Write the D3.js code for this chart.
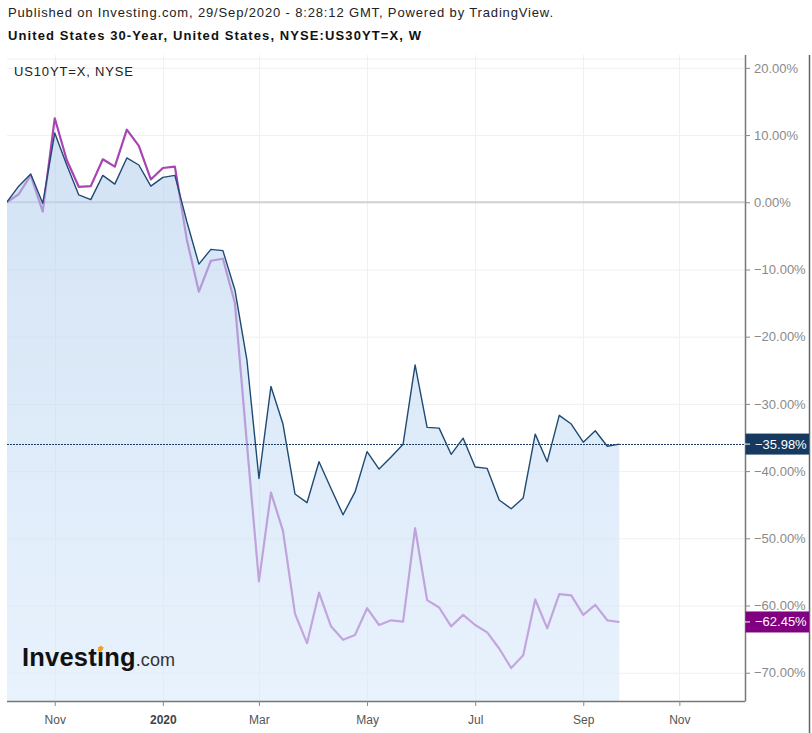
<!DOCTYPE html>
<html>
<head>
<meta charset="utf-8">
<script src="https://cdn.jsdelivr.net/npm/d3@7"></script>
<style>
  html, body { margin: 0; padding: 0; background: #fff; }
  svg { display: block; font-family: Arial, "Liberation Sans", sans-serif; }
</style>
</head>
<body>
<svg id="chart" width="812" height="733"></svg>
<script>
// ---- data ----
const startWeek = new Date(2019, 9, 7);   // first weekly bar (Mon 7 Oct 2019)
const lastWeek = new Date(2020, 8, 28);   // last weekly bar (Mon 28 Sep 2020)
const weeks = d3.timeMonday.range(startWeek, d3.timeDay.offset(lastWeek, 1));

// US30YT=X (main series), % change
const us30 = [0, 2.4, 4.2, -0.15, 10.3, 5.55, 1.1, 0.4, 4.0, 2.7,
  6.6, 5.55, 2.4, 3.7, 4.0, -2.9, -9.2, -7.0, -7.2, -13.05,
  -23.5, -41.1, -27.4, -33.0, -43.4, -44.7, -38.6, -42.6, -46.5, -43.1,
  -37.1, -39.7, -37.9, -36.0, -24.2, -33.5, -33.6, -37.5, -35.1, -39.4,
  -39.6, -44.3, -45.6, -44.0, -34.5, -38.6, -31.7, -33.0, -35.7, -34.0,
  -36.3, -35.98];
// US10YT=X (comparison series), % change
const us10 = [0, 1.2, 4.0, -1.4, 12.5, 6.3, 2.3, 2.4, 6.4, 5.3,
  10.8, 8.4, 3.4, 5.1, 5.3, -5.6, -13.3, -8.7, -8.4, -15.0,
  -36.0, -56.4, -43.2, -48.9, -61.2, -65.6, -58.1, -63.1, -65.1, -64.4,
  -60.4, -62.9, -62.2, -62.4, -48.5, -59.2, -60.3, -63.1, -61.4, -62.9,
  -64.0, -66.4, -69.3, -67.4, -59.1, -63.4, -58.3, -58.5, -61.4, -59.9,
  -62.2, -62.45];

const xTickDates = [new Date(2019, 10, 4), new Date(2020, 0, 6), new Date(2020, 2, 2),
  new Date(2020, 4, 4), new Date(2020, 6, 6), new Date(2020, 8, 7), new Date(2020, 10, 2)];
const xTickLabels = ["Nov", "2020", "Mar", "May", "Jul", "Sep", "Nov"];
const yTicks = [20, 10, 0, -10, -20, -30, -40, -50, -60, -70];

const headerLine1 = "Published on Investing.com, 29/Sep/2020 - 8:28:12 GMT, Powered by TradingView.";
const headerLine2 = "United States 30-Year, United States, NYSE:US30YT=X, W";
const compareLabel = "US10YT=X, NYSE";

// ---- layout ----
const plotL = 7, plotR = 745, plotT = 59, plotB = 701;
const svg = d3.select("#chart");

const x = d3.scaleTime().domain([startWeek, lastWeek]).range([6.7, 619.3]);
const y = d3.scaleLinear().domain([-74.21, 21.32]).range([plotB, plotT]);

const s30 = weeks.map((d, i) => ({ d, v: us30[i] }));
const s10 = weeks.map((d, i) => ({ d, v: us10[i] }));

// defs
const defs = svg.append("defs");
const grad = defs.append("linearGradient").attr("id", "areaGrad")
  .attr("x1", 0).attr("x2", 0)
  .attr("gradientUnits", "userSpaceOnUse")
  .attr("y1", y(12)).attr("y2", plotB);
grad.append("stop").attr("offset", "0%").attr("stop-color", "rgb(178,206,236)").attr("stop-opacity", 0.58);
grad.append("stop").attr("offset", "100%").attr("stop-color", "rgb(218,234,252)").attr("stop-opacity", 0.6);
defs.append("clipPath").attr("id", "plotClip").append("rect")
  .attr("x", plotL).attr("y", plotT).attr("width", plotR - plotL).attr("height", plotB - plotT);

// header
svg.append("text").attr("x", 8).attr("y", 17).attr("font-size", 13).attr("fill", "#222")
  .attr("textLength", 545).attr("lengthAdjust", "spacing").text(headerLine1);
svg.append("text").attr("x", 8).attr("y", 40).attr("font-size", 13).attr("font-weight", "bold").attr("fill", "#111")
  .attr("textLength", 413).attr("lengthAdjust", "spacing").text(headerLine2);

// grid
const grid = svg.append("g");
grid.append("line").attr("x1", plotL).attr("x2", plotR).attr("y1", plotT).attr("y2", plotT)
  .attr("stroke", "#eeeeee").attr("stroke-width", 1);
grid.selectAll("line.h").data(yTicks.filter(v => v !== 0)).join("line")
  .attr("x1", plotL).attr("x2", plotR)
  .attr("y1", d => y(d) + 0.5).attr("y2", d => y(d) + 0.5)
  .attr("stroke", "#f0f0f0").attr("stroke-width", 1);
grid.selectAll("line.v").data(xTickDates).join("line")
  .attr("x1", d => Math.round(x(d)) + 0.5).attr("x2", d => Math.round(x(d)) + 0.5)
  .attr("y1", plotT - 4).attr("y2", plotB)
  .attr("stroke", "#f0f0f0").attr("stroke-width", 1);

// compare label
svg.append("text").attr("x", 14).attr("y", 76).attr("font-size", 13).attr("fill", "#222")
  .attr("textLength", 119).attr("lengthAdjust", "spacing").text(compareLabel);

const plot = svg.append("g").attr("clip-path", "url(#plotClip)");

// zero line
plot.append("line").attr("x1", plotL).attr("x2", plotR).attr("y1", y(0)).attr("y2", y(0))
  .attr("stroke", "#cfcfd6").attr("stroke-width", 2);

// comparison line (drawn under the area)
const line = d3.line().x(p => x(p.d)).y(p => y(p.v));
plot.append("path").datum(s10).attr("d", line)
  .attr("fill", "none").attr("stroke", "#a845b2").attr("stroke-width", 2.2)
  .attr("stroke-linejoin", "round");

// area
const area = d3.area().x(p => x(p.d)).y0(plotB).y1(p => y(p.v));
plot.append("path").datum(s30).attr("d", area).attr("fill", "url(#areaGrad)");

// main line
plot.append("path").datum(s30).attr("d", line)
  .attr("fill", "none").attr("stroke", "#1f4a73").attr("stroke-width", 1.4)
  .attr("stroke-linejoin", "round");

// current value dotted line
const lastV = us30[us30.length - 1];
plot.append("line").attr("x1", plotL).attr("x2", plotR)
  .attr("y1", Math.round(y(lastV)) + 0.5).attr("y2", Math.round(y(lastV)) + 0.5)
  .attr("stroke", "#1b3d66").attr("stroke-width", 1).attr("stroke-dasharray", "2,1");

// logo
const logo = svg.append("text").attr("x", 22).attr("y", 666)
  .attr("font-size", 25.5).attr("font-weight", "bold").attr("fill", "#111").attr("letter-spacing", 0.2);
logo.append("tspan").text("Investing");
logo.append("tspan").attr("font-size", 18).attr("font-weight", "normal").attr("fill", "#333").attr("letter-spacing", 0.1).text(".com");
try {
  const ext = logo.node().getExtentOfChar(6);
  svg.append("rect").attr("x", ext.x + ext.width / 2 - 2).attr("y", ext.y + 3)
    .attr("width", 4).attr("height", 6).attr("fill", "#f7a21b")
    .attr("transform", `rotate(30, ${ext.x + ext.width / 2}, ${ext.y + 6})`);
} catch (e) {}

// x axis
const xAxis = d3.axisBottom(x).tickValues(xTickDates).tickSize(5).tickFormat((d, i) => xTickLabels[i]);
const gx = svg.append("g").attr("transform", `translate(0,${plotB})`).call(xAxis);
gx.select(".domain").attr("d", `M${plotL},0.5H${plotR}`).attr("stroke", "#777").attr("stroke-width", 1.5);
gx.selectAll(".tick line").attr("stroke", "#888");
gx.selectAll(".tick text").attr("font-size", 12).attr("dy", "1.25em")
  .attr("font-family", "Arial, 'Liberation Sans', sans-serif")
  .attr("font-weight", (d, i) => xTickLabels[i] === "2020" ? "bold" : "normal")
  .attr("fill", (d, i) => xTickLabels[i] === "2020" ? "#444" : "#555");

// y axis (right)
const yAxis = d3.axisRight(y).tickValues(yTicks).tickSize(5).tickPadding(4)
  .tickFormat(d => d3.format(".2f")(d) + "%");
const gy = svg.append("g").attr("transform", `translate(${plotR},0)`).call(yAxis);
gy.select(".domain").attr("d", `M0.5,55V${plotB + 0.5}`).attr("stroke", "#777").attr("stroke-width", 1.5);
gy.selectAll(".tick line").attr("stroke", "#888");
gy.selectAll(".tick text").attr("font-size", 13).attr("fill", "#8a8a8a")
  .attr("font-family", "Arial, 'Liberation Sans', sans-serif");

// right frame
svg.append("line").attr("x1", 809.5).attr("x2", 809.5).attr("y1", 55).attr("y2", 733)
  .attr("stroke", "#666").attr("stroke-width", 1.5);

// value labels
const labels = [
  { v: lastV, color: "#163a5f" },
  { v: us10[us10.length - 1], color: "#800080" }
];
labels.forEach(l => {
  const cy = y(l.v);
  svg.append("rect").attr("x", plotR + 0.5).attr("y", cy - 10.5).attr("width", 809 - plotR - 0.5).attr("height", 21)
    .attr("fill", l.color);
  svg.append("line").attr("x1", plotR).attr("x2", plotR + 5).attr("y1", cy).attr("y2", cy)
    .attr("stroke", "#fff").attr("stroke-width", 1);
  svg.append("text").attr("x", plotR + 10).attr("y", cy + 4.5).attr("font-size", 13).attr("fill", "#fff")
    .text(d3.format(".2f")(l.v) + "%");
});
</script>
</body>
</html>
